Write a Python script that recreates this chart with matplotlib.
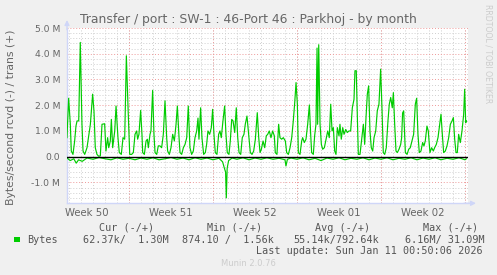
import matplotlib
matplotlib.use('Agg')
import matplotlib.pyplot as plt
from matplotlib.ticker import MultipleLocator, FixedLocator
from matplotlib.patches import Rectangle

plt.rcParams['font.family'] = 'DejaVu Sans'

# time in days since Mon 8 Dec 2025 00:00, values in MB/s
trans_days = [1.83, 1.97, 2.11, 2.19, 2.33, 2.47, 2.58, 2.67, 2.81, 2.94, 3.08, 3.17, 3.31, 3.50,
              3.78, 3.97, 4.08, 4.19, 4.33, 4.47, 4.61, 4.75, 4.97, 5.08, 5.22, 5.31, 5.44, 5.53,
              5.64, 5.81, 5.92, 6.08, 6.19, 6.36, 6.50, 6.64, 6.78, 6.92, 7.06,
              7.22, 7.36, 7.50, 7.64, 7.72, 7.83, 7.97, 8.08, 8.14, 8.28, 8.42, 8.53, 8.61, 8.75,
              8.83, 8.97, 9.08, 9.17, 9.31, 9.44, 9.58, 9.72, 9.86, 10.0, 10.14, 10.22, 10.36,
              10.5, 10.64, 10.78, 10.92, 11.03, 11.17, 11.25, 11.39, 11.53, 11.67, 11.81, 11.94,
              12.08, 12.22, 12.36, 12.5, 12.64, 12.75,
              12.83, 12.97, 13.08, 13.22, 13.36, 13.47, 13.58, 13.72, 13.86, 13.97, 14.08, 14.19,
              14.33, 14.47, 14.58, 14.69, 14.83, 14.97, 15.08, 15.19, 15.33, 15.44, 15.56, 15.67,
              15.81, 15.94, 16.06, 16.17, 16.31, 16.44, 16.58, 16.69, 16.83, 16.92, 17.0, 17.11,
              17.25, 17.39, 17.53, 17.69, 17.81, 17.92, 18.03, 18.17, 18.31, 18.44,
              18.56, 18.69, 18.83, 18.97, 19.11, 19.19, 19.33, 19.47, 19.58, 19.72, 19.86, 20.03,
              20.14, 20.28, 20.42, 20.56, 20.69, 20.81, 20.92, 21.03, 21.11, 21.25, 21.39, 21.47,
              21.61, 21.75, 21.89, 22.03, 22.14, 22.22, 22.36, 22.47, 22.58, 22.67, 22.72, 22.81,
              22.92, 23.03, 23.14, 23.28, 23.42, 23.56, 23.69, 23.81, 23.92, 24.03, 24.14, 24.25,
              24.36, 24.5, 24.58, 24.69, 24.81, 24.92, 25.06, 25.19, 25.33, 25.47, 25.61, 25.75,
              25.83, 25.94, 26.03, 26.11, 26.25, 26.39, 26.53, 26.64, 26.75, 26.86, 26.97, 27.08,
              27.19, 27.31, 27.42, 27.56, 27.69, 27.83, 27.97, 28.08, 28.19, 28.31, 28.44, 28.58,
              28.69, 28.81, 28.94, 29.03, 29.14, 29.25, 29.36, 29.5, 29.64, 29.72, 29.8,
              29.89, 30.03, 30.17, 30.31, 30.44, 30.58, 30.72, 30.86, 30.97, 31.08, 31.19, 31.33,
              31.47, 31.58, 31.69, 31.83, 31.94, 32.08, 32.22, 32.36, 32.47, 32.61, 32.75, 32.89,
              33.0, 33.11, 33.22, 33.36, 33.5, 33.64, 33.78, 33.92, 34.03, 34.14, 34.25, 34.36,
              34.47, 34.61, 34.75, 34.89, 34.97, 35.06, 35.11]
trans_vals = [0.74, 2.27, 1.26, 0.22, 0.09, 0.61, 1.19, 1.39, 1.39, 4.44, 1.26, 0.22, 0.09, 0.35,
              1.26, 2.43, 1.78, 0.35, 0.09, 0.02, 0.03, 1.26, 1.28, 0.22, 0.74, 0.35, 0.61, 1.45,
              0.35, 1.0, 1.97, 0.74, 0.16, 0.09, 0.74, 0.68, 3.92, 1.9, 0.09,
              0.09, 0.16, 0.87, 1.0, 0.68, 0.87, 1.8, 0.87, 0.16, 0.09, 0.61, 0.68, 0.35, 0.87,
              1.0, 2.58, 0.87, 0.16, 0.09, 0.42, 0.42, 0.35, 0.87, 2.17, 0.74, 0.22, 0.09,
              0.35, 0.87, 0.61, 1.26, 1.97, 0.74, 0.16, 0.09, 0.35, 0.48, 0.74, 1.97,
              0.35, 0.09, 0.22, 0.74, 1.0, 1.5,
              0.68, 1.9, 0.74, 0.09, 0.16, 0.48, 1.0, 0.87, 1.13, 1.84, 0.87, 0.16,
              0.09, 0.87, 1.0, 0.74, 1.39, 1.97, 0.87, 0.16, 0.09, 0.61, 1.45, 1.39,
              0.94, 1.9, 0.74, 0.16, 0.09, 0.74, 0.87, 1.26, 1.58, 1.13, 0.74, 0.16,
              0.09, 0.22, 0.68, 1.71, 0.74, 0.16, 0.29, 0.61, 0.35, 0.81,
              0.87, 1.0, 0.74, 1.0, 0.81, 0.16, 0.09, 1.26, 0.74, 0.68, 0.74, 0.61,
              0.16, 0.09, 0.35, 0.74, 1.39, 2.1, 2.88, 2.04, 0.16, 0.09, 0.61, 0.74,
              0.55, 0.68, 1.26, 2.01, 0.87, 0.16, 0.09, 0.81, 1.26, 4.22, 1.26, 4.35,
              1.26, 0.48, 0.29, 0.35, 0.68, 1.0, 0.74, 2.04, 1.0, 1.13, 0.22, 0.09,
              1.13, 0.81, 1.26, 0.68, 1.13, 0.87, 1.06, 0.94, 1.0, 1.0, 1.9, 2.23,
              3.34, 3.34, 1.52, 0.09, 0.09, 0.68, 1.26, 0.48, 1.52, 2.43, 2.75, 1.0,
              0.35, 0.22, 0.74, 1.0, 1.78, 2.04, 3.4, 1.9, 0.16, 0.09, 0.35, 1.39,
              2.04, 2.3, 1.9, 2.49, 1.26, 0.22, 0.16, 0.29, 0.48, 0.74, 1.7,
              1.78, 0.16, 0.09, 0.29, 0.35, 0.61, 0.87, 2.04, 2.27, 0.87, 0.16, 0.22,
              0.55, 0.42, 0.61, 1.19, 1.0, 0.16, 0.35, 0.22, 0.35, 0.48, 0.74, 1.26,
              1.65, 0.87, 0.16, 0.22, 0.42, 0.74, 1.26, 1.39, 1.52, 0.68, 0.16, 0.16,
              0.87, 0.55, 1.0, 1.65, 2.62, 1.32, 1.39]

rcvd_days = [1.83, 2.1, 2.4, 2.6, 2.8, 3.1, 3.5, 4.0, 4.5, 5.0, 5.5, 6.0, 6.5, 7.0, 7.5, 8.0,
             8.5, 9.0, 9.5, 10.0, 10.5, 11.0, 11.5, 12.0, 12.5, 13.0, 13.5, 14.0, 14.5, 14.8,
             14.95, 15.05, 15.11, 15.18, 15.3, 15.6, 16.0, 16.5, 17.0, 17.5, 18.0, 18.5, 19.0,
             19.5, 20.0, 20.08, 20.2, 20.5, 21.0, 21.5, 22.0, 22.5, 23.0, 23.5, 24.0, 24.5,
             25.0, 25.5, 26.0, 26.5, 27.0, 27.5, 28.0, 28.5, 29.0, 29.5, 30.0, 30.5, 31.0,
             31.5, 32.0, 32.5, 33.0, 33.5, 34.0, 34.5, 35.0, 35.11]
rcvd_vals = [-0.05, -0.15, -0.08, -0.25, -0.12, -0.18, -0.05, -0.1, -0.03, -0.08, -0.12, -0.04,
             -0.1, -0.06, -0.12, -0.05, -0.1, -0.04, -0.12, -0.08, -0.03, -0.1, -0.05, -0.12,
             -0.04, -0.1, -0.05, -0.12, -0.06, -0.2, -0.45, -0.6, -1.6, -0.45, -0.15, -0.05,
             -0.1, -0.04, -0.12, -0.05, -0.1, -0.04, -0.1, -0.06, -0.12, -0.36, -0.1, -0.05,
             -0.1, -0.04, -0.12, -0.06, -0.15, -0.05, -0.1, -0.04, -0.12, -0.06, -0.1, -0.04,
             -0.12, -0.05, -0.1, -0.04, -0.12, -0.06, -0.1, -0.04, -0.12, -0.05, -0.1, -0.04,
             -0.12, -0.06, -0.1, -0.04, -0.12, -0.08]

week_starts = [7, 14, 21, 28, 35]
week_mids = [3.5, 10.5, 17.5, 24.5, 31.5]
week_labels = ['Week 50', 'Week 51', 'Week 52', 'Week 01', 'Week 02']
y_ticks = [-1, 0, 1, 2, 3, 4, 5]
y_labels = ['-1.0 M', '0.0', '1.0 M', '2.0 M', '3.0 M', '4.0 M', '5.0 M']

stat_heads = ['Cur (-/+)', 'Min (-/+)', 'Avg (-/+)', 'Max (-/+)']
stat_vals = ['62.37k/  1.30M', '874.10 /  1.56k', '55.14k/792.64k', '6.16M/ 31.09M']

W, H = 497, 275
BG = '#F0F0F0'
FONT = '#666666'
AXIS = '#CFD6F8'
MGRID = '#EE9999'
GRID = '#CFCFCF'
GREEN = '#00CC00'

fig = plt.figure(figsize=(W / 100, H / 100), dpi=100, facecolor=BG)
ax = fig.add_axes([67 / W, 1 - 203.3 / H, (468 - 67) / W, (203.3 - 28) / H])
ax.set_facecolor('white')

ax.plot(trans_days, trans_vals, color=GREEN, lw=0.85, zorder=3)
ax.plot(rcvd_days, rcvd_vals, color=GREEN, lw=0.85, zorder=3)
ax.axhline(0, color='black', lw=1.0, zorder=4)

ax.set_xlim(1.833, 35.25)
ax.set_ylim(-1.81, 5.0)

# grid
ax.yaxis.set_major_locator(FixedLocator(y_ticks))
ax.set_yticklabels(y_labels)
ax.yaxis.set_minor_locator(MultipleLocator(0.2))
ax.xaxis.set_minor_locator(MultipleLocator(1))
ax.set_xticks(week_mids)
ax.set_xticklabels(week_labels)
ax.grid(axis='y', which='major', color=MGRID, ls=(0, (1, 2)), lw=0.7)
ax.grid(axis='y', which='minor', color=GRID, ls=(0, (1, 2)), lw=0.7)
ax.grid(axis='x', which='minor', color=GRID, ls=(0, (1, 2)), lw=0.7)
ax.grid(axis='x', which='major', visible=False)
for d in week_starts:
    ax.axvline(d, color=MGRID, ls=(0, (1, 2)), lw=0.7, zorder=1)
ax.set_axisbelow(True)

ax.tick_params(axis='both', which='both', length=0, colors=FONT)
ax.tick_params(axis='y', labelsize=6.7, pad=5)
ax.tick_params(axis='x', labelsize=7.3, pad=3.5)

for s in ['top', 'right']:
    ax.spines[s].set_visible(False)
for s in ['left', 'bottom']:
    ax.spines[s].set_color(AXIS)
    ax.spines[s].set_linewidth(1)

# axis arrows
arr = dict(arrowstyle='-|>', color=AXIS, lw=1, mutation_scale=7, shrinkA=0, shrinkB=0)
ax.annotate('', xy=(0, 1 + 8 / 175.3), xytext=(0, 0.99), xycoords='axes fraction',
            arrowprops=arr, annotation_clip=False)
ax.annotate('', xy=(1 + 8 / 401, 0), xytext=(0.99, 0), xycoords='axes fraction',
            arrowprops=arr, annotation_clip=False)

# texts
fig.text(248 / W, 1 - 19.3 / H, 'Transfer / port : SW-1 : 46-Port 46 : Parkhoj - by month',
         ha='center', va='center', fontsize=8.9, color=FONT)
fig.text(11.5 / W, 1 - 117 / H, 'Bytes/second rcvd (-) / trans (+)', rotation=90,
         ha='center', va='center', fontsize=7.8, color=FONT)
fig.text(488 / W, 1 - 53.5 / H, 'RRDTOOL / TOBI OETIKER', rotation=270,
         ha='center', va='center', fontsize=5.6, color='#CCCCCC')

mono = 'DejaVu Sans Mono'
fig.add_artist(Rectangle((14 / W, 1 - 242 / H), 5.5 / W, 5.5 / H, transform=fig.transFigure,
                         facecolor=GREEN, edgecolor='none'))
fig.text(26.7 / W, 1 - 239.7 / H, 'Bytes', ha='left', va='center', family=mono,
         fontsize=7.3, color='#555555')
head_x = [99, 206.7, 315, 423.3]
val_x = [82.7, 182.3, 293.3, 405]
for hx, h in zip(head_x, stat_heads):
    fig.text(hx / W, 1 - 227.7 / H, h, ha='left', va='center', family=mono,
             fontsize=7.3, color='#555555')
for vx, v in zip(val_x, stat_vals):
    fig.text(vx / W, 1 - 239.7 / H, v, ha='left', va='center', family=mono,
             fontsize=7.3, color='#555555')
fig.text(482.7 / W, 1 - 251.3 / H, 'Last update: Sun Jan 11 00:50:06 2026', ha='right',
         va='center', family=mono, fontsize=7.3, color='#555555')
fig.text(248 / W, 1 - 264 / H, 'Munin 2.0.76', ha='center', va='center',
         fontsize=6.0, color='#CCCCCC')

fig.savefig('out.png', dpi=100, facecolor=BG)
